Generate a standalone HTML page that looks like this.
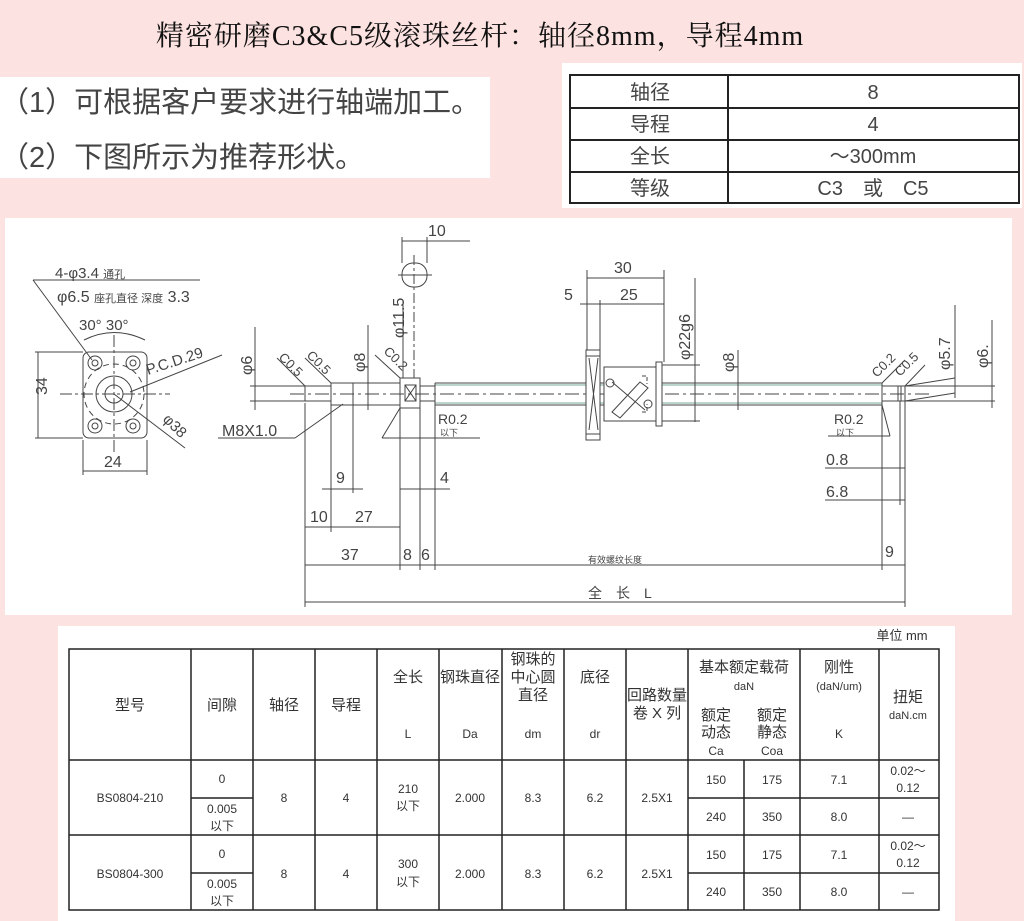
<!DOCTYPE html>
<html><head><meta charset="utf-8">
<style>
body{margin:0;width:1024px;height:921px;background:#fce2e0;position:relative;overflow:hidden;font-family:"Liberation Sans","Noto Sans CJK SC",sans-serif;}
.abs{position:absolute}
</style></head><body>
<div class="abs" style="left:0;top:14px;width:960px;text-align:center;font-family:'Liberation Serif','Noto Serif CJK SC',serif;font-size:28px;letter-spacing:1px;color:#111;">精密研磨C3&amp;C5级滚珠丝杆：轴径8mm，导程4mm</div>
<div class="abs" style="left:0;top:77px;width:490px;height:101px;background:#fff;"></div>
<div class="abs" style="left:0px;top:79px;font-size:29px;color:#444;font-family:'Liberation Sans','Noto Sans CJK SC',sans-serif;">（1）可根据客户要求进行轴端加工。</div>
<div class="abs" style="left:0px;top:134px;font-size:29px;color:#444;font-family:'Liberation Sans','Noto Sans CJK SC',sans-serif;">（2）下图所示为推荐形状。</div>
<div class="abs" style="left:562px;top:63px;width:460px;height:145px;background:#fff;"></div>
<svg class="abs" style="left:0;top:0" width="1024" height="921">
<g stroke="#222" stroke-width="2" fill="none">
<rect x="570" y="75" width="449" height="128"/>
<line x1="570" y1="108" x2="1019" y2="108"/><line x1="570" y1="140" x2="1019" y2="140"/><line x1="570" y1="172" x2="1019" y2="172"/>
<line x1="728" y1="75" x2="728" y2="203"/>
</g>
<g font-size="20" fill="#444" text-anchor="middle" font-family="Liberation Sans,Noto Sans CJK SC,sans-serif">
<text x="650" y="99">轴径</text><text x="873" y="99">8</text>
<text x="650" y="131">导程</text><text x="873" y="131">4</text>
<text x="650" y="163">全长</text><text x="873" y="163">～300mm</text>
<text x="650" y="195">等级</text><text x="873" y="195">C3　或　C5</text>
</g>
<rect x="5" y="218" width="1007" height="397" fill="#fff"/>
<g stroke="#444" stroke-width="1" fill="none">
<rect x="83" y="352" width="64" height="86" rx="6"/>
<circle cx="95" cy="363" r="7"/><circle cx="95" cy="363" r="3"/>
<circle cx="133" cy="363" r="7"/><circle cx="133" cy="363" r="3"/>
<circle cx="95" cy="426" r="7"/><circle cx="95" cy="426" r="3"/>
<circle cx="133" cy="426" r="7"/><circle cx="133" cy="426" r="3"/>
<circle cx="114" cy="394" r="18"/><circle cx="114" cy="394" r="9"/>
<circle cx="114" cy="394" r="30" stroke-dasharray="6,4"/>
<line x1="60" y1="394" x2="170" y2="394" stroke-dasharray="12,3,3,3"/>
<line x1="114" y1="335" x2="114" y2="455" stroke-dasharray="12,3,3,3"/>
<line x1="38" y1="352" x2="38" y2="438"/><line x1="35" y1="352" x2="83" y2="352"/><line x1="35" y1="438" x2="83" y2="438"/>
<line x1="83" y1="471" x2="147" y2="471"/><line x1="83" y1="440" x2="83" y2="475"/><line x1="147" y1="440" x2="147" y2="475"/>
<line x1="33" y1="280" x2="200" y2="280"/><line x1="33" y1="280" x2="92" y2="360"/>
<path d="M84 340 Q114 325 145 340"/>
<line x1="130" y1="392" x2="222" y2="355"/>
<line x1="114" y1="394" x2="185" y2="448"/>
<line x1="290" y1="394" x2="930" y2="394" stroke-dasharray="14,4,3,4"/>
<rect x="305" y="386" width="26" height="15"/>
<rect x="331" y="383" width="22" height="22"/>
<rect x="353" y="383" width="47" height="22"/>
<rect x="400" y="378" width="20" height="30"/>
<rect x="405" y="385" width="11" height="16"/>
<line x1="405" y1="385" x2="416" y2="401"/><line x1="416" y1="385" x2="405" y2="401"/>
<rect x="420" y="386" width="15" height="15"/>
<line x1="435" y1="383" x2="882" y2="383"/><line x1="435" y1="405" x2="882" y2="405"/>
<line x1="435" y1="385" x2="882" y2="385" stroke="#7a9"/><line x1="435" y1="403" x2="882" y2="403" stroke="#7a9"/>
<line x1="435" y1="383" x2="435" y2="405"/><line x1="882" y1="383" x2="882" y2="405"/>
<rect x="882" y="386" width="23" height="15"/>
<line x1="898" y1="386" x2="898" y2="401"/><line x1="901" y1="386" x2="901" y2="401"/>
<rect x="586" y="350" width="14" height="90" fill="#fff"/>
<line x1="586" y1="356" x2="600" y2="356"/><line x1="586" y1="434" x2="600" y2="434"/>
<line x1="589" y1="358" x2="598" y2="430"/><line x1="598" y1="358" x2="589" y2="430"/>
<rect x="604" y="367" width="54" height="54" fill="#fff"/>
<rect x="656" y="362" width="6" height="64" fill="#fff"/>
<path d="M612 412 L640 382 L648 388 L620 418 Z"/>
<path d="M612 382 L645 410"/>
<circle cx="610" cy="383" r="4"/><circle cx="648" cy="404" r="4"/>
<path d="M642 376 h5 v8 M642 412 h5 v-8" stroke-dasharray="4,2"/>
<rect x="402" y="263" width="25" height="24" rx="11"/>
<line x1="414" y1="255" x2="414" y2="378" stroke-dasharray="10,3,3,3"/>
<line x1="398" y1="275" x2="432" y2="275"/>
<line x1="402" y1="237" x2="402" y2="263"/><line x1="427" y1="237" x2="427" y2="263"/>
<line x1="402" y1="241" x2="470" y2="241"/>
<line x1="403" y1="300" x2="403" y2="378"/>
<line x1="368" y1="325" x2="368" y2="410"/>
<line x1="255" y1="327" x2="255" y2="410"/><line x1="250" y1="386" x2="305" y2="386"/><line x1="250" y1="401" x2="305" y2="401"/>
<line x1="277" y1="358" x2="305" y2="386"/><line x1="305" y1="358" x2="331" y2="383"/><line x1="375" y1="355" x2="400" y2="378"/>
<line x1="218" y1="438" x2="295" y2="438"/><line x1="295" y1="438" x2="343" y2="404"/>
<line x1="382" y1="438" x2="480" y2="438"/><line x1="382" y1="438" x2="400" y2="408"/>
<line x1="305" y1="403" x2="305" y2="607"/>
<line x1="331" y1="405" x2="331" y2="532"/>
<line x1="353" y1="405" x2="353" y2="493"/>
<line x1="400" y1="408" x2="400" y2="570"/>
<line x1="420" y1="408" x2="420" y2="570"/>
<line x1="435" y1="405" x2="435" y2="570"/>
<line x1="882" y1="405" x2="882" y2="570"/>
<line x1="905" y1="401" x2="905" y2="607"/>
<line x1="900" y1="401" x2="900" y2="505"/>
<line x1="322" y1="489" x2="363" y2="489"/>
<line x1="400" y1="489" x2="450" y2="489"/>
<line x1="305" y1="527" x2="400" y2="527"/>
<line x1="305" y1="565" x2="905" y2="565"/>
<line x1="305" y1="602" x2="905" y2="602"/>
<line x1="587" y1="278" x2="664" y2="278"/><line x1="580" y1="304" x2="664" y2="304"/>
<line x1="587" y1="270" x2="587" y2="350"/><line x1="600" y1="300" x2="600" y2="350"/><line x1="664" y1="270" x2="664" y2="362"/>
<line x1="695" y1="278" x2="695" y2="422"/><line x1="662" y1="365" x2="700" y2="365"/><line x1="662" y1="421" x2="700" y2="421"/>
<line x1="738" y1="350" x2="738" y2="410"/>
<line x1="882" y1="383" x2="905" y2="360"/><line x1="905" y1="386" x2="925" y2="365"/>
<line x1="905" y1="386" x2="955" y2="378"/><line x1="905" y1="401" x2="955" y2="393"/>
<line x1="955" y1="305" x2="955" y2="398"/>
<line x1="905" y1="386" x2="995" y2="386"/><line x1="905" y1="401" x2="995" y2="401"/>
<line x1="992" y1="320" x2="992" y2="408"/>
<line x1="825" y1="468" x2="905" y2="468"/><line x1="825" y1="500" x2="905" y2="500"/>
<line x1="828" y1="436" x2="890" y2="436"/><line x1="890" y1="436" x2="882" y2="405"/>
</g>
<g fill="#444" font-family="Liberation Sans,Noto Sans CJK SC,sans-serif" font-size="16">
<text x="55" y="278" font-size="15">4-φ3.4 <tspan font-size="11">通孔</tspan></text>
<text x="57" y="302">φ6.5 <tspan font-size="11">座孔直径 深度</tspan> 3.3</text>
<text x="79" y="330" font-size="15">30°  30°</text>
<text x="148" y="375" transform="rotate(-18 148 375)" font-size="15">P.C.D.29</text>
<text x="162" y="420" transform="rotate(45 162 420)" font-size="15">φ38</text>
<text x="34" y="408" transform="rotate(-90 34 395)" font-size="16">34</text>
<text x="104" y="467">24</text>
<text x="428" y="236">10</text>
<text x="404" y="338" transform="rotate(-90 404 338)">φ11.5</text>
<text x="365" y="372" transform="rotate(-90 365 372)">φ8</text>
<text x="252" y="375" transform="rotate(-90 252 375)">φ6</text>
<text x="278" y="358" transform="rotate(45 278 358)" font-size="13">C0.5</text>
<text x="306" y="356" transform="rotate(45 306 356)" font-size="13">C0.5</text>
<text x="383" y="352" transform="rotate(45 383 352)" font-size="13">C0.2</text>
<text x="222" y="436">M8X1.0</text>
<text x="438" y="424" font-size="14">R0.2</text><text x="440" y="436" font-size="9">以下</text>
<text x="336" y="483">9</text><text x="440" y="483">4</text>
<text x="310" y="522">10</text><text x="355" y="522">27</text>
<text x="341" y="560">37</text><text x="403" y="560">8</text><text x="421" y="560">6</text>
<text x="588" y="563" font-size="9">有效螺纹长度</text>
<text x="885" y="557">9</text>
<text x="588" y="598" font-size="14">全　长　L</text>
<text x="614" y="273">30</text><text x="564" y="300">5</text><text x="620" y="300">25</text>
<text x="690" y="360" transform="rotate(-90 690 360)">φ22g6</text>
<text x="734" y="372" transform="rotate(-90 734 372)">φ8</text>
<text x="877" y="378" transform="rotate(-45 877 378)" font-size="13">C0.2</text>
<text x="900" y="377" transform="rotate(-45 900 377)" font-size="13">C0.5</text>
<text x="950" y="370" transform="rotate(-90 950 370)">φ5.7</text>
<text x="988" y="368" transform="rotate(-90 988 368)">φ6.</text>
<text x="834" y="424" font-size="14">R0.2</text><text x="836" y="436" font-size="9">以下</text>
<text x="826" y="465">0.8</text><text x="826" y="497">6.8</text>
</g>
<rect x="58" y="626" width="897" height="295" fill="#fff"/>
<g stroke="#222" stroke-width="1.5" fill="none">
<rect x="69" y="649" width="870" height="261"/>
<line x1="69" y1="760" x2="939" y2="760"/><line x1="69" y1="835" x2="939" y2="835"/>
<line x1="191" y1="649" x2="191" y2="910"/><line x1="253" y1="649" x2="253" y2="910"/>
<line x1="315" y1="649" x2="315" y2="910"/><line x1="377" y1="649" x2="377" y2="910"/>
<line x1="439" y1="649" x2="439" y2="910"/><line x1="502" y1="649" x2="502" y2="910"/>
<line x1="564" y1="649" x2="564" y2="910"/><line x1="626" y1="649" x2="626" y2="910"/>
<line x1="688" y1="649" x2="688" y2="910"/><line x1="800" y1="649" x2="800" y2="910"/>
<line x1="879" y1="649" x2="879" y2="910"/>
<line x1="744" y1="760" x2="744" y2="910"/>
<line x1="191" y1="798" x2="253" y2="798"/><line x1="191" y1="873" x2="253" y2="873"/>
<line x1="688" y1="798" x2="939" y2="798"/><line x1="688" y1="873" x2="939" y2="873"/>
</g>
<g fill="#333" font-size="15" text-anchor="middle" font-family="Liberation Sans,Noto Sans CJK SC,sans-serif">
<text x="902" y="640" font-size="13">单位 mm</text>
<text x="130" y="710">型号</text><text x="222" y="710">间隙</text><text x="284" y="710">轴径</text><text x="346" y="710">导程</text>
<text x="408" y="682">全长</text><text x="408" y="738" font-size="12">L</text>
<text x="470" y="682">钢珠直径</text><text x="470" y="738" font-size="12">Da</text>
<text x="533" y="664">钢珠的</text><text x="533" y="682">中心圆</text><text x="533" y="700">直径</text><text x="533" y="738" font-size="12">dm</text>
<text x="595" y="682">底径</text><text x="595" y="738" font-size="12">dr</text>
<text x="657" y="700">回路数量</text><text x="657" y="718">卷 X 列</text>
<text x="744" y="672">基本额定载荷</text><text x="744" y="690" font-size="11">daN</text>
<text x="716" y="720">额定</text><text x="716" y="737">动态</text><text x="716" y="755" font-size="12">Ca</text>
<text x="772" y="720">额定</text><text x="772" y="737">静态</text><text x="772" y="755" font-size="12">Coa</text>
<text x="839" y="672">刚性</text><text x="839" y="690" font-size="11">(daN/um)</text><text x="839" y="738" font-size="12">K</text>
<text x="908" y="702">扭矩</text><text x="908" y="719" font-size="11">daN.cm</text>
<g font-size="12">
<text x="130" y="802">BS0804-210</text><text x="222" y="783">0</text><text x="222" y="813">0.005</text><text x="222" y="830">以下</text>
<text x="284" y="802">8</text><text x="346" y="802">4</text><text x="408" y="793">210</text><text x="408" y="810">以下</text>
<text x="470" y="802">2.000</text><text x="533" y="802">8.3</text><text x="595" y="802">6.2</text><text x="657" y="802">2.5X1</text>
<text x="716" y="784">150</text><text x="772" y="784">175</text><text x="839" y="784">7.1</text><text x="908" y="775">0.02～</text><text x="908" y="792">0.12</text>
<text x="716" y="821">240</text><text x="772" y="821">350</text><text x="839" y="821">8.0</text><text x="908" y="821">—</text>
<text x="130" y="878">BS0804-300</text><text x="222" y="858">0</text><text x="222" y="888">0.005</text><text x="222" y="905">以下</text>
<text x="284" y="878">8</text><text x="346" y="878">4</text><text x="408" y="868">300</text><text x="408" y="886">以下</text>
<text x="470" y="878">2.000</text><text x="533" y="878">8.3</text><text x="595" y="878">6.2</text><text x="657" y="878">2.5X1</text>
<text x="716" y="859">150</text><text x="772" y="859">175</text><text x="839" y="859">7.1</text><text x="908" y="850">0.02～</text><text x="908" y="867">0.12</text>
<text x="716" y="896">240</text><text x="772" y="896">350</text><text x="839" y="896">8.0</text><text x="908" y="896">—</text>
</g>
</g>
</svg>
</body></html>
